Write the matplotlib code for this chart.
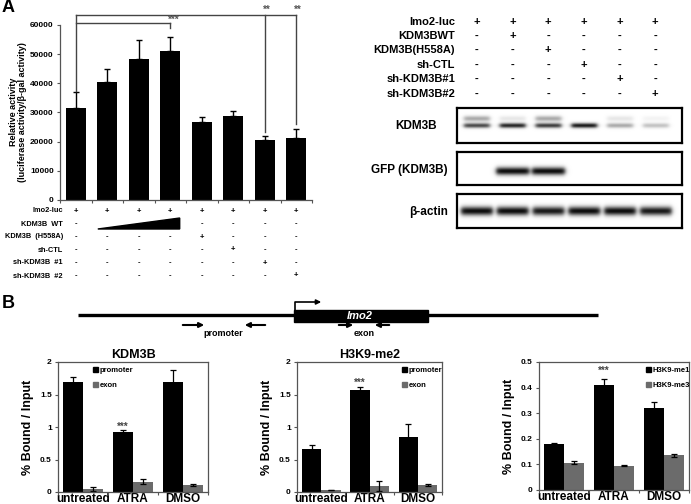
"""KDM3B reporter / blot / ChIP figure (panels A and B)."""

import numpy as np
import matplotlib
matplotlib.use("Agg")
import matplotlib.pyplot as plt
from matplotlib import transforms
from matplotlib.patches import Patch, Polygon, Rectangle

plt.rcParams["font.family"] = ["Liberation Sans", "DejaVu Sans"]
plt.rcParams["font.weight"] = "bold"
plt.rcParams["axes.titleweight"] = "bold"
plt.rcParams["axes.labelweight"] = "bold"

W, H = 691, 504

# ---- panel A: luciferase reporter ----
act_mean = [31500, 40500, 48300, 51200, 26700, 28800, 20400, 21200]
act_err = [5500, 4400, 6700, 4800, 1800, 1700, 1500, 3200]
act_ticks = [0, 10000, 20000, 30000, 40000, 50000, 60000]

table_labels = ["Imo2-luc", "KDM3B  WT", "KDM3B  (H558A)", "sh-CTL",
                "sh-KDM3B  #1", "sh-KDM3B  #2"]
table_rows = [
    ["+", "+", "+", "+", "+", "+", "+", "+"],
    ["-", "", "", "", "-", "-", "-", "-"],
    ["-", "-", "-", "-", "+", "-", "-", "-"],
    ["-", "-", "-", "-", "-", "+", "-", "-"],
    ["-", "-", "-", "-", "-", "-", "+", "-"],
    ["-", "-", "-", "-", "-", "-", "-", "+"],
]

# ---- panel A: western blot ----
blot_labels = ["Imo2-luc", "KDM3BWT", "KDM3B(H558A)", "sh-CTL",
               "sh-KDM3B#1", "sh-KDM3B#2"]
blot_rows = [
    ["+", "+", "+", "+", "+", "+"],
    ["-", "+", "-", "-", "-", "-"],
    ["-", "-", "+", "-", "-", "-"],
    ["-", "-", "-", "+", "-", "-"],
    ["-", "-", "-", "-", "+", "-"],
    ["-", "-", "-", "-", "-", "+"],
]
kdm3b_band = [0.75, 0.9, 0.8, 0.95, 0.35, 0.25]
kdm3b_smear = [0.35, 0.1, 0.35, 0.0, 0.1, 0.05]
gfp_band = [0.0, 1.0, 1.0, 0.0, 0.0, 0.0]
actin_band = [1.0, 1.0, 0.95, 1.0, 1.0, 0.95]

# ---- panel B: ChIP ----
treatments = ["untreated", "ATRA", "DMSO"]
kdm3b_prom = [1.70, 0.92, 1.70]
kdm3b_prom_err = [0.07, 0.03, 0.17]
kdm3b_exon = [0.04, 0.16, 0.11]
kdm3b_exon_err = [0.03, 0.04, 0.015]
me2_prom = [0.66, 1.57, 0.85]
me2_prom_err = [0.07, 0.05, 0.19]
me2_exon = [0.03, 0.09, 0.11]
me2_exon_err = [0.005, 0.08, 0.015]
me1 = [0.18, 0.41, 0.32]
me1_err = [0.003, 0.025, 0.022]
me3 = [0.107, 0.095, 0.135]
me3_err = [0.007, 0.003, 0.005]

GRAY = "#6b6b6b"
SPINE = "#555555"


def px_axes(fig, x0, y0, x1, y1):
    return fig.add_axes([x0 / W, 1 - y1 / H, (x1 - x0) / W, (y1 - y0) / H])


def num_fmt(v, _pos=None):
    return ("%g" % round(v, 3))


fig = plt.figure(figsize=(W / 100, H / 100), dpi=100)

# overlay in pixel coordinates, drawn on top of everything
ov = fig.add_axes([0, 0, 1, 1], zorder=10)
ov.set_xlim(0, W)
ov.set_ylim(H, 0)
ov.axis("off")
ov.patch.set_visible(False)

# ================= panel A bar chart =================
axA = px_axes(fig, 60, 25, 312, 200)
xA = np.arange(len(act_mean))
axA.bar(xA, act_mean, width=0.64, color="black",
        yerr=[np.zeros(len(act_err)), act_err],
        error_kw=dict(ecolor="black", elinewidth=1.0, capsize=2, capthick=1.0))
axA.set_xlim(-0.5, 7.5)
axA.set_ylim(0, 60000)
axA.set_yticks(act_ticks)
axA.set_yticklabels([str(t) for t in act_ticks], fontsize=6, fontweight="bold")
axA.set_xticks([])
axA.set_xticks(np.arange(-0.5, 8, 1), minor=True)
axA.tick_params(axis="x", which="minor", length=2, width=0.8, color=SPINE)
axA.tick_params(axis="y", length=2.5, width=0.8, color=SPINE, pad=2)
for s in ("top", "right"):
    axA.spines[s].set_visible(False)
for s in ("left", "bottom"):
    axA.spines[s].set_color(SPINE)
    axA.spines[s].set_linewidth(0.9)

# significance brackets (data coords, above the axes)
top_y, low_y = 63400, 60800
lk = dict(color="#444444", lw=1.0, clip_on=False)
axA.plot([0, 7], [top_y, top_y], **lk)
axA.plot([0, 3], [low_y, low_y], **lk)
axA.plot([0, 0], [top_y, act_mean[0] + act_err[0] + 300], **lk)
axA.plot([3, 3], [low_y, low_y - 1800], **lk)
axA.plot([6, 6], [top_y, act_mean[6] + act_err[6] + 1500], **lk)
axA.plot([7, 7], [top_y, act_mean[7] + act_err[7] + 1500], **lk)
axA.text(3.1, 61700, "***", ha="center", va="center", fontsize=7, color="#555555")
axA.text(6.05, 65300, "**", ha="center", va="center", fontsize=7, color="#555555")
axA.text(7.05, 65300, "**", ha="center", va="center", fontsize=7, color="#555555")

ov.text(18, 112, "Relative activity\n(luciferase activity/β-gal activity)",
        rotation=90, ha="center", va="center", fontsize=6.5, linespacing=1.05)
ov.text(2, 8, "A", fontsize=13, ha="left", va="center")

# condition table under the bars
tA = transforms.blended_transform_factory(axA.transData, ov.transData)
row_y = [211, 224, 237, 250, 263, 276]
for label, row, y in zip(table_labels, table_rows, row_y):
    ov.text(63, y, label, ha="right", va="center", fontsize=5.3)
    for i, mark in enumerate(row):
        if mark:
            axA.text(i, y, mark, transform=tA, ha="center", va="center",
                     fontsize=5.5, clip_on=False)
wedge = Polygon([(0.7, 229), (3.3, 218), (3.3, 229)], closed=True,
                color="black", transform=tA, clip_on=False)
axA.add_patch(wedge)

# ================= panel A western blot =================
lane_lim = (-0.55, 5.75)


def blot(y0, y1, levels, yc, sy, half_w, smear=None):
    ax = px_axes(fig, 457, y0, 682, y1)
    xs = np.linspace(lane_lim[0], lane_lim[1], 500)
    ys = np.linspace(0, 1, 80)
    X, Y = np.meshgrid(xs, ys)
    img = np.zeros_like(X)
    for i, lv in enumerate(levels):
        xmask = 1 / (1 + np.exp(-(X - (i - half_w)) / 0.035)) * \
            1 / (1 + np.exp((X - (i + half_w)) / 0.035))
        img += lv * np.exp(-((Y - yc) / sy) ** 2) * xmask
        if smear is not None:
            img += smear[i] * np.exp(-((Y - yc - 0.2) / 0.08) ** 2) * xmask
    ax.imshow(np.clip(img, 0, 1), extent=(lane_lim[0], lane_lim[1], 0, 1),
              origin="lower", cmap="gray_r", vmin=0, vmax=1.05, aspect="auto",
              interpolation="bilinear")
    ax.set_xlim(*lane_lim)
    ax.set_ylim(0, 1)
    ax.set_xticks([])
    ax.set_yticks([])
    for s in ax.spines.values():
        s.set_linewidth(1.6)
    return ax


ax_k = blot(108, 143, kdm3b_band, 0.5, 0.07, 0.36, kdm3b_smear)
ax_g = blot(152, 185, gfp_band, 0.42, 0.12, 0.46)
ax_b = blot(194, 228, actin_band, 0.5, 0.13, 0.44)

ov.text(437, 126, "KDM3B", ha="right", va="center", fontsize=8.5)
ov.text(448, 170, "GFP (KDM3B)", ha="right", va="center", fontsize=8.5)
ov.text(448, 212, "β-actin", ha="right", va="center", fontsize=8.5)

tB = transforms.blended_transform_factory(ax_k.transData, ov.transData)
blot_y = [22, 36, 50, 65, 79, 94]
for label, row, y in zip(blot_labels, blot_rows, blot_y):
    ov.text(455, y, label, ha="right", va="center", fontsize=8)
    for i, mark in enumerate(row):
        ax_k.text(i, y, mark, transform=tB, ha="center", va="center",
                  fontsize=8, clip_on=False)

# ================= panel B gene diagram =================
ov.text(2, 303, "B", fontsize=13, ha="left", va="center")
ov.plot([78, 598], [315, 315], color="black", lw=2.4, solid_capstyle="butt")
ov.add_patch(Rectangle((294, 310), 134, 12, color="black"))
ov.text(360, 316, "lmo2", color="white", fontsize=8, style="italic",
        ha="center", va="center")
ov.plot([295, 295, 316], [310, 302, 302], color="black", lw=1.2)
ov.annotate("", xy=(324, 302), xytext=(314, 302),
            arrowprops=dict(arrowstyle="-|>", color="black", lw=1.2,
                            mutation_scale=7))
arrow_kw = dict(arrowstyle="-|>", color="black", lw=1.5, mutation_scale=7)
for x_from, x_to in [(180, 207), (268, 242), (336, 356), (392, 372)]:
    ov.annotate("", xy=(x_to, 325), xytext=(x_from, 325), arrowprops=arrow_kw)
ov.text(223, 333, "promoter", ha="center", va="center", fontsize=6.5)
ov.text(364, 333, "exon", ha="center", va="center", fontsize=6.5)


# ================= panel B bar charts =================
def chip(rect, a, a_err, b, b_err, names, ymax, step, title=None,
         star_y=None, leg_x=0.7):
    ax = px_axes(fig, *rect)
    x = np.arange(len(treatments))
    ek = dict(ecolor="black", elinewidth=0.9, capsize=2, capthick=0.9)
    ax.bar(x - 0.2, a, width=0.4, color="black", yerr=a_err, error_kw=ek,
           label=names[0])
    ax.bar(x + 0.2, b, width=0.4, color=GRAY, yerr=b_err, error_kw=ek,
           label=names[1])
    ax.set_xlim(-0.5, 2.5)
    ax.set_ylim(0, ymax)
    yt = np.arange(0, ymax + step / 2, step)
    ax.set_yticks(yt)
    ax.set_yticklabels([num_fmt(v) for v in yt], fontsize=6)
    ax.set_xticks(x)
    ax.set_xticklabels(treatments, fontsize=8.5)
    ax.tick_params(axis="x", which="major", length=0, pad=1)
    ax.set_xticks(np.arange(-0.5, 3, 1), minor=True)
    ax.tick_params(axis="x", which="minor", length=2.5, width=0.8, color=SPINE)
    ax.tick_params(axis="y", length=2.5, width=0.8, color=SPINE, pad=2)
    for s in ax.spines.values():
        s.set_color(SPINE)
        s.set_linewidth(0.9)
    ax.set_ylabel("% Bound / Input", fontsize=9, labelpad=4)
    if title:
        ax.set_title(title, fontsize=9, pad=3)
    if star_y is not None:
        ax.text(0.8, star_y, "***", ha="center", va="center", fontsize=7,
                color="#444444")
    handles = [Patch(color="black"), Patch(color=GRAY)]
    ax.legend(handles, names, loc="upper left", bbox_to_anchor=(leg_x, 1.0),
              frameon=False, fontsize=5.5, handlelength=0.55, handleheight=0.55,
              handletextpad=0.3, labelspacing=1.0, borderaxespad=0.3)
    return ax


chip((58, 362, 208, 492), kdm3b_prom, kdm3b_prom_err, kdm3b_exon,
     kdm3b_exon_err, ["promoter", "exon"], 2, 0.5, title="KDM3B",
     star_y=1.0, leg_x=0.2)
chip((297, 362, 442, 492), me2_prom, me2_prom_err, me2_exon, me2_exon_err,
     ["promoter", "exon"], 2, 0.5, title="H3K9-me2", star_y=1.68, leg_x=0.69)
chip((539, 362, 689, 490), me1, me1_err, me3, me3_err,
     ["H3K9-me1", "H3K9-me3"], 0.5, 0.1, star_y=0.465, leg_x=0.68)

fig.savefig("out.png", dpi=100)
